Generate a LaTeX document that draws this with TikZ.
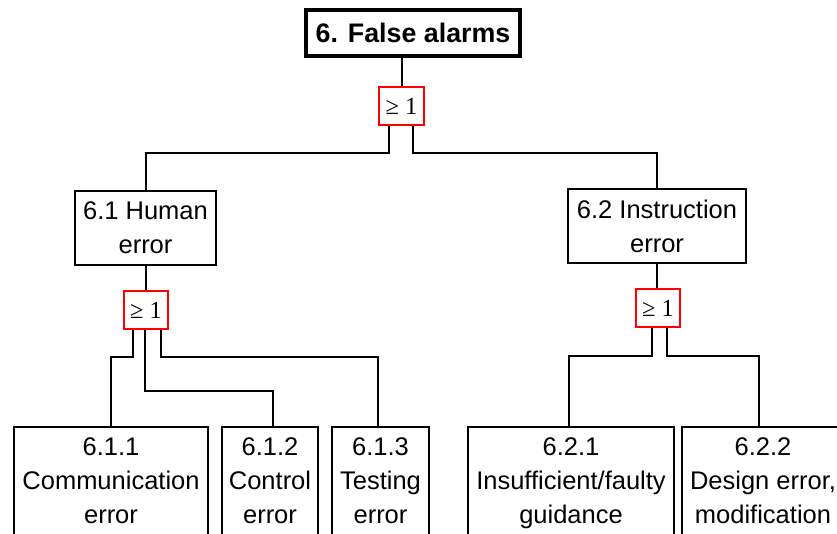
\documentclass[tikz,border=0pt]{standalone}
\usepackage{fontspec}
\setmainfont{Liberation Sans}
\newfontfamily\gatefont{Liberation Serif}
\usetikzlibrary{calc}

\begin{document}
\begin{tikzpicture}[x=1pt, y=-1pt,
    event/.style={draw, line width=2pt, align=center, inner sep=0pt,
      font=\fontsize{25.5}{34}\selectfont},
    gate/.style={draw=red, line width=2pt, inner sep=0pt, minimum width=44.5pt,
      minimum height=38.5pt, font=\gatefont\fontsize{24.5}{26}\selectfont},
    wire/.style={line width=2pt}]

  % Define drop of the wires below a gate
  \def\d{27}

  % Frame
  \useasboundingbox (0,0) rectangle (837,533);
  \clip (0,0) rectangle (837,533);

  % Top event
  \node[event, line width=4.5pt, minimum width=214pt, minimum height=46pt,
    font=\bfseries\fontsize{26.8}{30}\selectfont] (top) at (413,33) {6. False alarms};

  % Gates
  \node[gate] (or0) at (401.5,106) {≥ 1};
  \node[gate] (or1) at (146,310) {≥ 1};
  \node[gate] (or2) at (658,308) {≥ 1};

  % Intermediate events
  \node[event, minimum width=141pt, minimum height=74pt] (human) at (145.5,228) {6.1 Human\\error};
  \node[event, minimum width=178pt, minimum height=74pt] (instr) at (657,226) {6.2 Instruction\\error};

  % Basic events (cut off by the bottom edge)
  \node[event, minimum width=194pt, minimum height=112pt] (comm) at (111,483) {6.1.1\\Communication\\error\vphantom{g}};
  \node[event, minimum width=96pt, minimum height=112pt] (ctrl) at (270,483) {6.1.2\\Control\\error\vphantom{g}};
  \node[event, minimum width=97pt, minimum height=112pt] (test) at (380.5,483) {6.1.3\\Testing\\error\vphantom{g}};
  \node[event, minimum width=206pt, minimum height=112pt] (guide) at (571,483) {6.2.1\\Insufficient/faulty\\guidance};
  \node[event, minimum width=162pt, minimum height=112pt] (design) at (763,483) {6.2.2\\Design error,\\modification\vphantom{g}};

  % Wires
  \draw[wire] (top.south -| or0) -- (or0.north);
  \draw[wire] ($(or0.south)+(-12.5,0)$) -- ++(0,\d) -| (human.north);
  \draw[wire] ($(or0.south)+(11.5,0)$) -- ++(0,\d) -| (instr.north);

  \draw[wire] (human.south) -- (human.south |- or1.north);
  \draw[wire] ($(or1.south)+(-13,0)$) -- ++(0,\d) -| (comm.north);
  \draw[wire] ($(or1.south)+(-1,0)$) -- ++(0,61) -| ($(ctrl.north)+(3,0)$);
  \draw[wire] ($(or1.south)+(15,0)$) -- ++(0,\d) -| ($(test.north)+(-2.5,0)$);

  \draw[wire] (instr.south) -- (instr.south |- or2.north);
  \draw[wire] ($(or2.south)+(-6,0)$) -- ++(0,28) -| ($(guide.north)+(-2,0)$);
  \draw[wire] ($(or2.south)+(9,0)$) -- ++(0,28) -| ($(design.north)+(-4,0)$);

\end{tikzpicture}
\end{document}
